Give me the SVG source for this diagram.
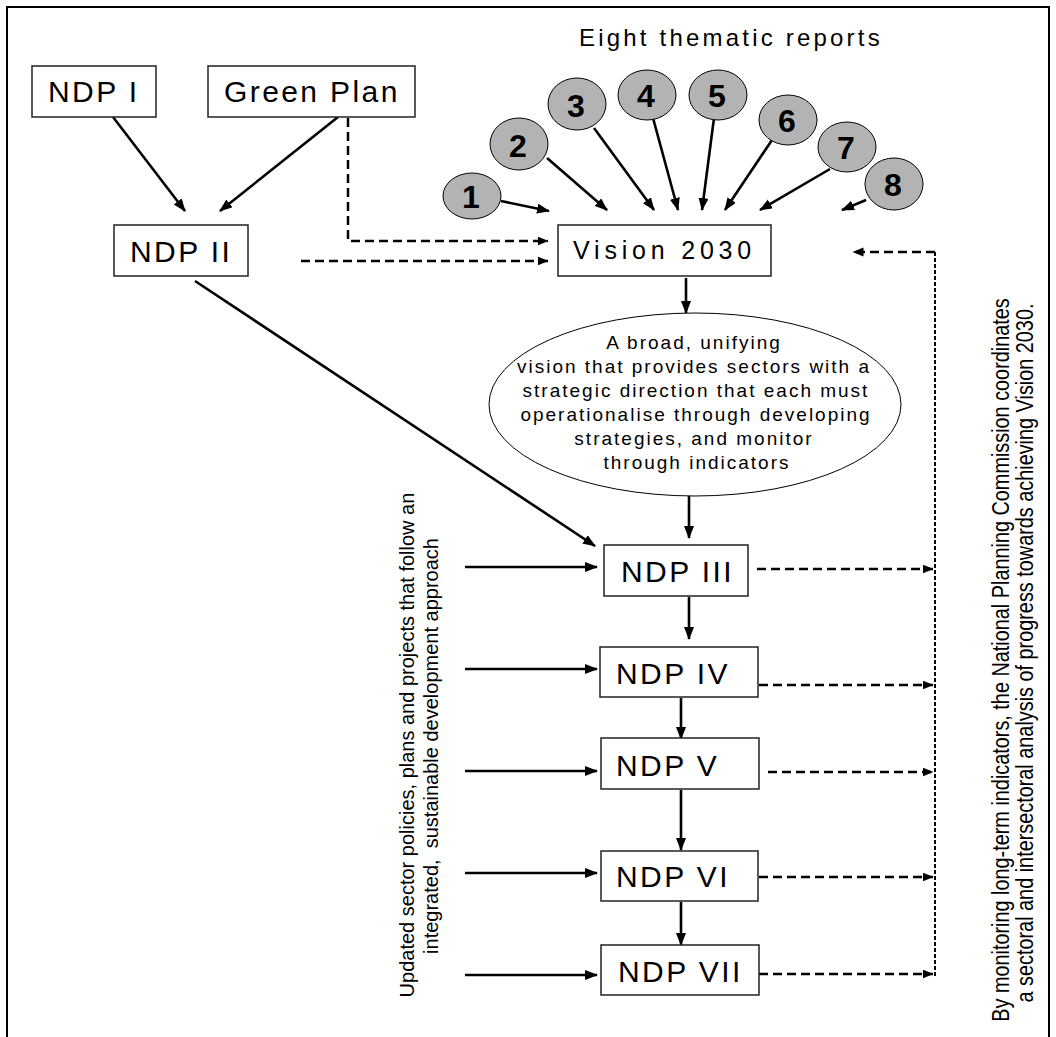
<svg xmlns="http://www.w3.org/2000/svg" width="1056" height="1037" viewBox="0 0 1056 1037">
<defs>
<marker id="ah" markerUnits="userSpaceOnUse" markerWidth="14" markerHeight="11" refX="12" refY="5" orient="auto">
<path d="M0,0 L13,5 L0,10 z" fill="#000"/>
</marker>
<marker id="ahs" markerUnits="userSpaceOnUse" markerWidth="12" markerHeight="10" refX="10.5" refY="4.5" orient="auto">
<path d="M0,0 L11,4.5 L0,9 z" fill="#000"/>
</marker>
<style>
.box{fill:#fff;stroke:#222;stroke-width:1.5}
.lbl{font-family:"Liberation Sans",Arial,sans-serif;font-size:30px;letter-spacing:2.4px;fill:#000}
.num{font-family:"Liberation Sans",Arial,sans-serif;font-size:32px;font-weight:bold;text-anchor:middle;fill:#000}
.circ{fill:#b3b3b3;stroke:#000;stroke-width:1}
.sol{stroke:#000;stroke-width:2.6;fill:none;marker-end:url(#ah)}
.dash{stroke:#000;stroke-width:2.5;fill:none;stroke-dasharray:9 5;marker-end:url(#ahs)}
.fine{stroke:#000;stroke-width:2;fill:none;stroke-dasharray:4 2}
.small{font-family:"Liberation Sans",Arial,sans-serif;font-size:19px;letter-spacing:2px;text-anchor:middle;fill:#000}
.side{font-family:"Liberation Sans",Arial,sans-serif;font-size:20px;text-anchor:middle;fill:#000}
.side2{font-family:"Liberation Sans",Arial,sans-serif;font-size:24px;text-anchor:middle;fill:#000}
</style>
</defs>
<rect width="1056" height="1037" fill="#fff"/>
<path d="M7,1037 V7 H1049 V1037" fill="none" stroke="#000" stroke-width="2"/>

<text x="579" y="46" font-family="Liberation Sans, Arial, sans-serif" font-size="24" letter-spacing="3.2" fill="#000">Eight thematic reports</text>

<g id="connectors">
<line class="sol" x1="113" y1="117" x2="185" y2="211"/>
<line class="sol" x1="338" y1="117" x2="220" y2="211"/>
<polyline class="dash" points="348,118 348,241 548,241"/>
<line class="dash" x1="301" y1="261" x2="548" y2="261"/>
<line class="sol" x1="195" y1="281" x2="595" y2="546"/>
<line class="sol" x1="501" y1="201" x2="549" y2="211"/>
<line class="sol" x1="547" y1="158" x2="607" y2="210"/>
<line class="sol" x1="594" y1="128" x2="654" y2="210"/>
<line class="sol" x1="653" y1="118" x2="678" y2="210"/>
<line class="sol" x1="714" y1="118" x2="702" y2="210"/>
<line class="sol" x1="772" y1="140" x2="725" y2="210"/>
<line class="sol" x1="830" y1="169" x2="760" y2="210"/>
<line class="sol" x1="866" y1="200" x2="842" y2="210"/>
<line class="sol" x1="686" y1="278" x2="686" y2="313"/>
<line class="sol" x1="689" y1="496" x2="689" y2="538"/>
<line class="sol" x1="689" y1="597" x2="689" y2="639"/>
<line class="sol" x1="681" y1="698" x2="681" y2="739"/>
<line class="sol" x1="681" y1="790" x2="681" y2="850"/>
<line class="sol" x1="681" y1="902" x2="681" y2="945"/>
<line class="sol" x1="465" y1="567" x2="597" y2="567"/>
<line class="sol" x1="465" y1="669" x2="597" y2="669"/>
<line class="sol" x1="465" y1="771" x2="597" y2="771"/>
<line class="sol" x1="465" y1="873" x2="597" y2="873"/>
<line class="sol" x1="465" y1="975" x2="597" y2="975"/>
<line class="dash" x1="757" y1="569" x2="933" y2="569"/>
<line class="dash" x1="759" y1="685" x2="933" y2="685"/>
<line class="dash" x1="768" y1="772" x2="933" y2="772"/>
<line class="dash" x1="759" y1="877" x2="933" y2="877"/>
<line class="dash" x1="759" y1="974" x2="933" y2="974"/>
<line class="fine" x1="935" y1="252" x2="935" y2="976"/>
<line class="dash" x1="935" y1="252" x2="853" y2="252"/>
</g>

<g id="ndp1"><rect class="box" x="32" y="66" width="124" height="51"/><text class="lbl" x="48" y="102">NDP I</text></g>
<g id="greenplan"><rect class="box" x="208" y="66" width="207" height="51"/><text class="lbl" x="224" y="102" letter-spacing="2.5">Green Plan</text></g>
<g id="ndp2"><rect class="box" x="114" y="225" width="134" height="51"/><text class="lbl" x="130" y="262">NDP II</text></g>
<g id="vision"><rect class="box" x="558" y="225" width="213" height="51"/><text x="573" y="259" font-family="Liberation Sans, Arial, sans-serif" font-size="25" letter-spacing="4.8" fill="#000">Vision 2030</text></g>

<g id="r1"><ellipse class="circ" cx="472" cy="196" rx="29" ry="23"/><text class="num" x="471" y="208">1</text></g>
<g id="r2"><ellipse class="circ" cx="519" cy="144" rx="29" ry="26"/><text class="num" x="518" y="157">2</text></g>
<g id="r3"><ellipse class="circ" cx="577" cy="104" rx="29" ry="26"/><text class="num" x="576" y="117">3</text></g>
<g id="r4"><ellipse class="circ" cx="647" cy="95" rx="29" ry="25"/><text class="num" x="646" y="107">4</text></g>
<g id="r5"><ellipse class="circ" cx="718" cy="95" rx="29" ry="25"/><text class="num" x="717" y="107">5</text></g>
<g id="r6"><ellipse class="circ" cx="788" cy="120" rx="29" ry="25"/><text class="num" x="787" y="132">6</text></g>
<g id="r7"><ellipse class="circ" cx="847" cy="147" rx="29" ry="25"/><text class="num" x="846" y="159">7</text></g>
<g id="r8"><ellipse class="circ" cx="894" cy="184" rx="29" ry="26"/><text class="num" x="893" y="196">8</text></g>

<g id="visiontext">
<ellipse cx="695" cy="404.5" rx="206" ry="91.5" fill="#fff" stroke="#000" stroke-width="1"/>
<text class="small" x="694" y="349">A broad, unifying</text>
<text class="small" x="694" y="373">vision that provides sectors with a</text>
<text class="small" x="696" y="397">strategic direction that each must</text>
<text class="small" x="696" y="421">operationalise through developing</text>
<text class="small" x="694" y="445">strategies, and monitor</text>
<text class="small" x="697" y="469">through indicators</text>
</g>

<g id="ndp3"><rect class="box" x="604" y="545" width="144" height="51"/><text class="lbl" x="621" y="582">NDP III</text></g>
<g id="ndp4"><rect class="box" x="600" y="647" width="158" height="50"/><text class="lbl" x="616" y="684">NDP IV</text></g>
<g id="ndp5"><rect class="box" x="601" y="738" width="158" height="51"/><text class="lbl" x="616" y="776">NDP V</text></g>
<g id="ndp6"><rect class="box" x="601" y="851" width="157" height="50"/><text class="lbl" x="616" y="887">NDP VI</text></g>
<g id="ndp7"><rect class="box" x="601" y="945" width="158" height="50"/><text class="lbl" x="618" y="982">NDP VII</text></g>

<g id="lefttext">
<text class="side" transform="translate(414,745) rotate(-90)">Updated sector policies, plans and projects that follow an</text>
<text class="side" xml:space="preserve" transform="translate(438,746) rotate(-90)">integrated,  sustainable development approach</text>
</g>
<g id="righttext">
<text class="side2" transform="translate(1009,660) rotate(-90) scale(0.827,1)">By monitoring long-term indicators, the National Planning Commission coordinates</text>
<text class="side2" transform="translate(1033,653) rotate(-90) scale(0.827,1)">a sectoral and intersectoral analysis of progress towards achieving Vision 2030.</text>
</g>
</svg>
